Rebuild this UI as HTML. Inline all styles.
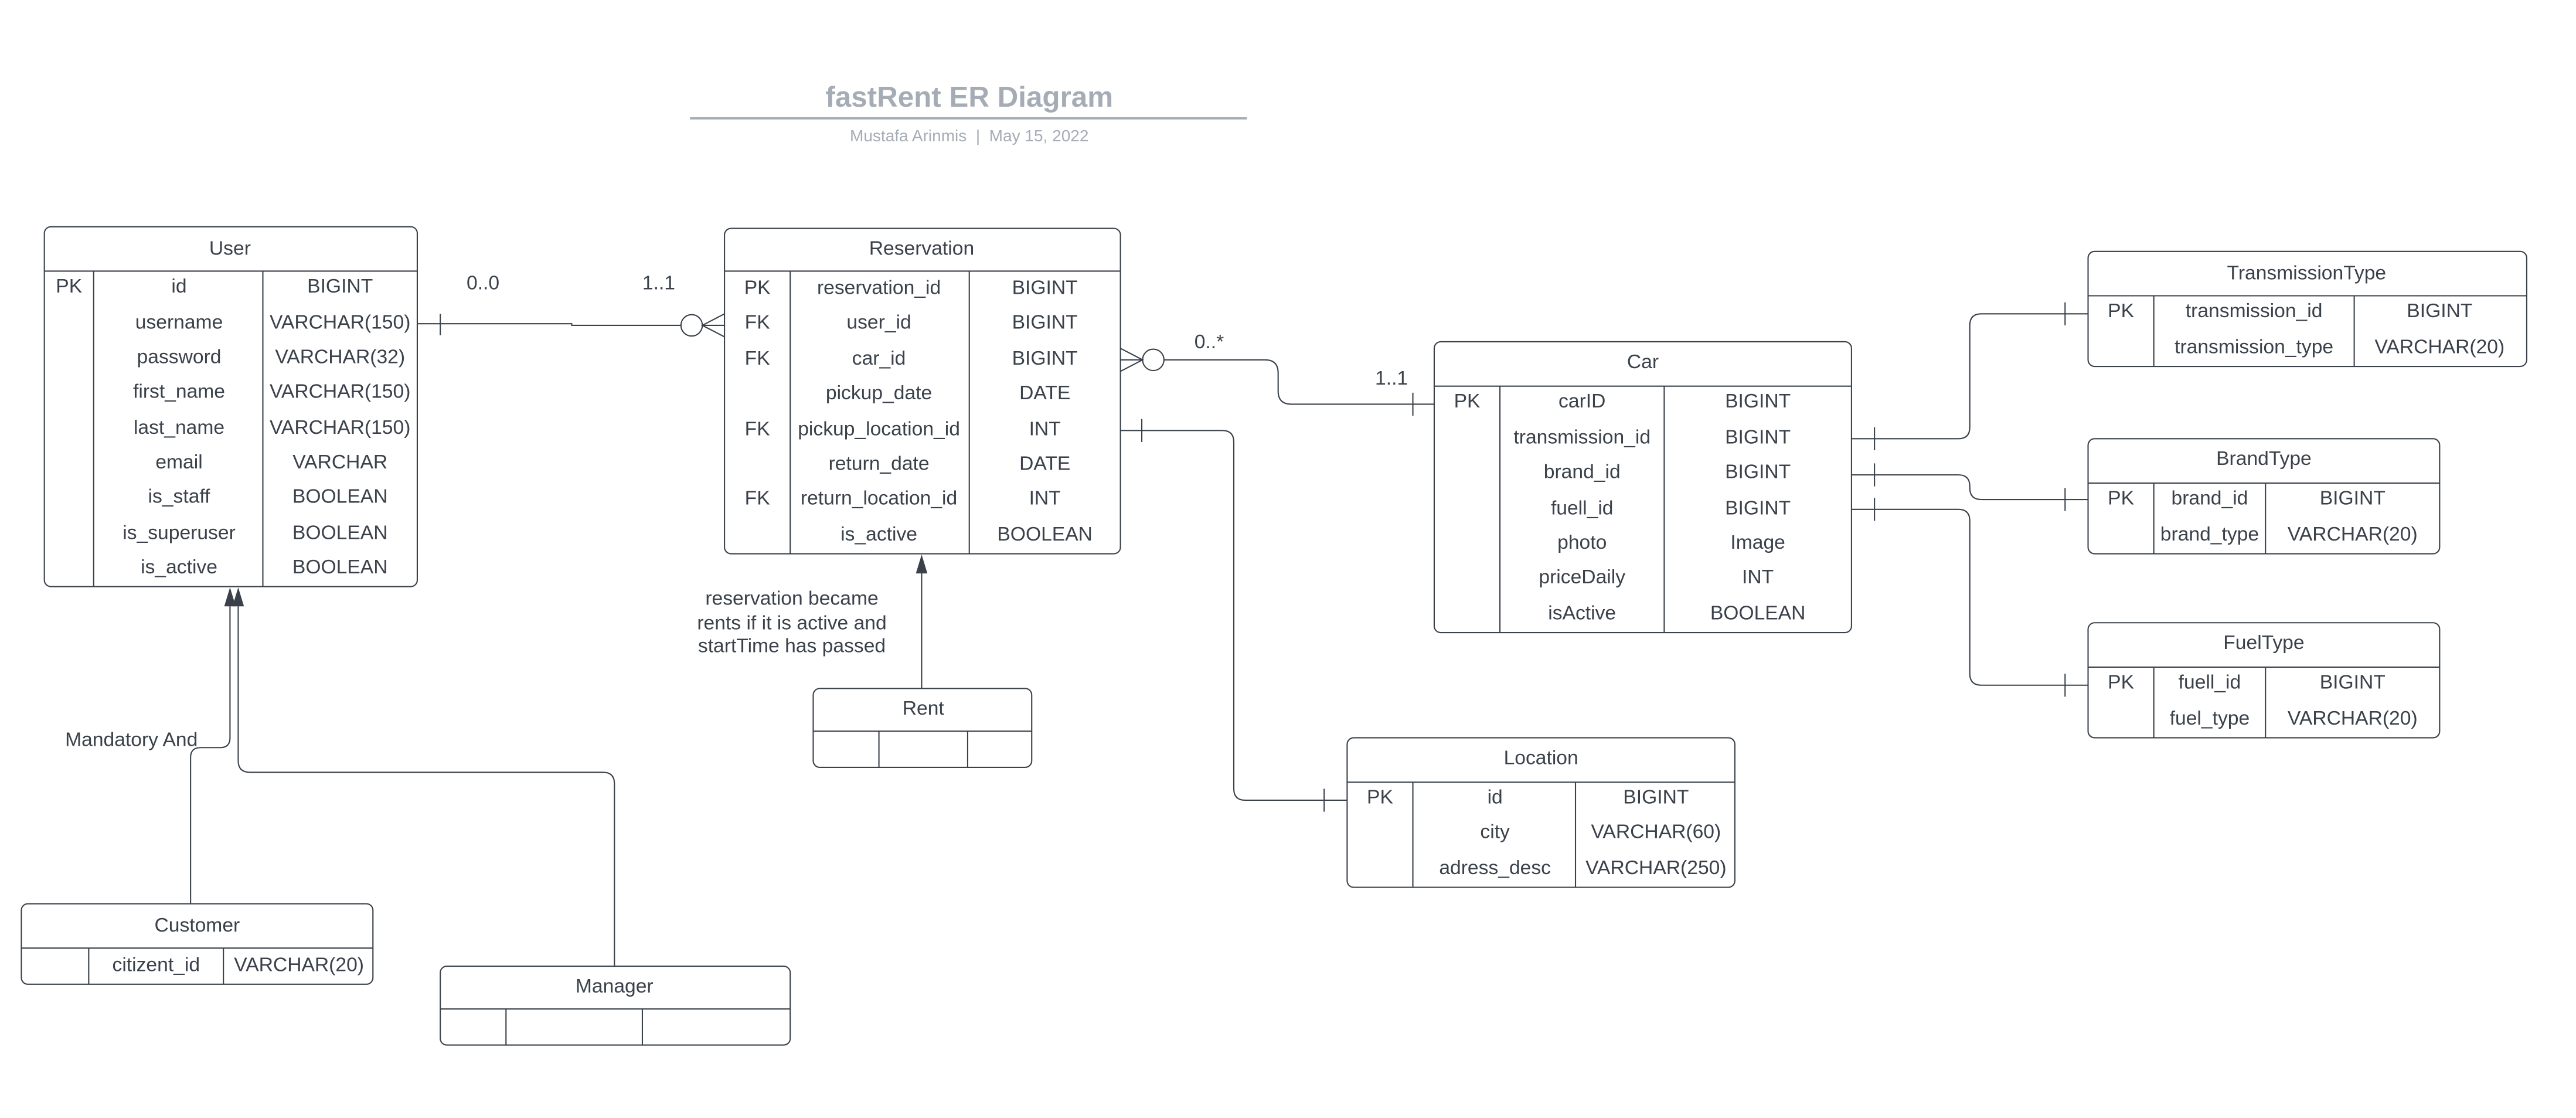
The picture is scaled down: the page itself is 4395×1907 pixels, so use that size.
<!DOCTYPE html>
<html><head><meta charset="utf-8"><style>
html,body{margin:0;padding:0;background:#fff;width:4395px;height:1907px;overflow:hidden}
svg{display:block}
text{font-family:"Liberation Sans",sans-serif;fill:#3a414a;font-size:12px}
.c{text-anchor:middle}
.b{fill:none;stroke:#3a414a;stroke-width:0.75}
.l{fill:none;stroke:#3a414a;stroke-width:0.75}
</style></head><body>
<svg width="4395" height="1907" viewBox="0 0 1568 680.4" preserveAspectRatio="none" xmlns="http://www.w3.org/2000/svg">
<!-- Title -->
<text x="590" y="65" class="c" style="font-weight:bold;font-size:17.6px;fill:#a6acb5">fastRent ER Diagram</text>
<line x1="420" y1="72" x2="759" y2="72" style="stroke:#a6acb5;stroke-width:1.4"/>
<text x="590" y="86" class="c" style="font-size:10px;fill:#a6acb5">Mustafa Arinmis&#160;&#160;|&#160;&#160;May 15, 2022</text>

<!-- User -->
<rect x="27" y="138" width="227" height="219" rx="4" class="b"/>
<line x1="27" y1="165" x2="254" y2="165" class="b"/>
<line x1="57" y1="165" x2="57" y2="357" class="b"/>
<line x1="160" y1="165" x2="160" y2="357" class="b"/>
<text x="140" y="155" class="c">User</text>
<text x="42" y="178" class="c">PK</text>
<g class="c">
<text x="109" y="178" class="c">id</text><text x="207" y="178" class="c">BIGINT</text>
<text x="109" y="200" class="c">username</text><text x="207" y="200" class="c">VARCHAR(150)</text>
<text x="109" y="221" class="c">password</text><text x="207" y="221" class="c">VARCHAR(32)</text>
<text x="109" y="242" class="c">first_name</text><text x="207" y="242" class="c">VARCHAR(150)</text>
<text x="109" y="264" class="c">last_name</text><text x="207" y="264" class="c">VARCHAR(150)</text>
<text x="109" y="285" class="c">email</text><text x="207" y="285" class="c">VARCHAR</text>
<text x="109" y="306" class="c">is_staff</text><text x="207" y="306" class="c">BOOLEAN</text>
<text x="109" y="328" class="c">is_superuser</text><text x="207" y="328" class="c">BOOLEAN</text>
<text x="109" y="349" class="c">is_active</text><text x="207" y="349" class="c">BOOLEAN</text>
</g>

<!-- Reservation -->
<rect x="441" y="139" width="241" height="198" rx="4" class="b"/>
<line x1="441" y1="165" x2="682" y2="165" class="b"/>
<line x1="481" y1="165" x2="481" y2="337" class="b"/>
<line x1="590" y1="165" x2="590" y2="337" class="b"/>
<text x="561" y="155" class="c">Reservation</text>
<text x="461" y="179" class="c">PK</text><text x="535" y="179" class="c">reservation_id</text><text x="636" y="179" class="c">BIGINT</text>
<text x="461" y="200" class="c">FK</text><text x="535" y="200" class="c">user_id</text><text x="636" y="200" class="c">BIGINT</text>
<text x="461" y="222" class="c">FK</text><text x="535" y="222" class="c">car_id</text><text x="636" y="222" class="c">BIGINT</text>
<text x="535" y="243" class="c">pickup_date</text><text x="636" y="243" class="c">DATE</text>
<text x="461" y="265" class="c">FK</text><text x="535" y="265" class="c">pickup_location_id</text><text x="636" y="265" class="c">INT</text>
<text x="535" y="286" class="c">return_date</text><text x="636" y="286" class="c">DATE</text>
<text x="461" y="307" class="c">FK</text><text x="535" y="307" class="c">return_location_id</text><text x="636" y="307" class="c">INT</text>
<text x="535" y="329" class="c">is_active</text><text x="636" y="329" class="c">BOOLEAN</text>

<!-- Car -->
<rect x="873" y="208" width="254" height="177" rx="4" class="b"/>
<line x1="873" y1="235" x2="1127" y2="235" class="b"/>
<line x1="913" y1="235" x2="913" y2="385" class="b"/>
<line x1="1013" y1="235" x2="1013" y2="385" class="b"/>
<text x="1000" y="224" class="c">Car</text>
<text x="893" y="248" class="c">PK</text><text x="963" y="248" class="c">carID</text><text x="1070" y="248" class="c">BIGINT</text>
<text x="963" y="270" class="c">transmission_id</text><text x="1070" y="270" class="c">BIGINT</text>
<text x="963" y="291" class="c">brand_id</text><text x="1070" y="291" class="c">BIGINT</text>
<text x="963" y="313" class="c">fuell_id</text><text x="1070" y="313" class="c">BIGINT</text>
<text x="963" y="334" class="c">photo</text><text x="1070" y="334" class="c">Image</text>
<text x="963" y="355" class="c">priceDaily</text><text x="1070" y="355" class="c">INT</text>
<text x="963" y="377" class="c">isActive</text><text x="1070" y="377" class="c">BOOLEAN</text>

<!-- TransmissionType -->
<rect x="1271" y="153" width="267" height="70" rx="4" class="b"/>
<line x1="1271" y1="180" x2="1538" y2="180" class="b"/>
<line x1="1311" y1="180" x2="1311" y2="223" class="b"/>
<line x1="1433" y1="180" x2="1433" y2="223" class="b"/>
<text x="1404" y="170" class="c">TransmissionType</text>
<text x="1291" y="193" class="c">PK</text><text x="1372" y="193" class="c">transmission_id</text><text x="1485" y="193" class="c">BIGINT</text>
<text x="1372" y="215" class="c">transmission_type</text><text x="1485" y="215" class="c">VARCHAR(20)</text>

<!-- BrandType -->
<rect x="1271" y="267" width="214" height="70" rx="4" class="b"/>
<line x1="1271" y1="294" x2="1485" y2="294" class="b"/>
<line x1="1311" y1="294" x2="1311" y2="337" class="b"/>
<line x1="1379" y1="294" x2="1379" y2="337" class="b"/>
<text x="1378" y="283" class="c">BrandType</text>
<text x="1291" y="307" class="c">PK</text><text x="1345" y="307" class="c">brand_id</text><text x="1432" y="307" class="c">BIGINT</text>
<text x="1345" y="329" class="c">brand_type</text><text x="1432" y="329" class="c">VARCHAR(20)</text>

<!-- FuelType -->
<rect x="1271" y="379" width="214" height="70" rx="4" class="b"/>
<line x1="1271" y1="406" x2="1485" y2="406" class="b"/>
<line x1="1311" y1="406" x2="1311" y2="449" class="b"/>
<line x1="1379" y1="406" x2="1379" y2="449" class="b"/>
<text x="1378" y="395" class="c">FuelType</text>
<text x="1291" y="419" class="c">PK</text><text x="1345" y="419" class="c">fuell_id</text><text x="1432" y="419" class="c">BIGINT</text>
<text x="1345" y="441" class="c">fuel_type</text><text x="1432" y="441" class="c">VARCHAR(20)</text>

<!-- Location -->
<rect x="820" y="449" width="236" height="91" rx="4" class="b"/>
<line x1="820" y1="476" x2="1056" y2="476" class="b"/>
<line x1="860" y1="476" x2="860" y2="540" class="b"/>
<line x1="959" y1="476" x2="959" y2="540" class="b"/>
<text x="938" y="465" class="c">Location</text>
<text x="840" y="489" class="c">PK</text><text x="910" y="489" class="c">id</text><text x="1008" y="489" class="c">BIGINT</text>
<text x="910" y="510" class="c">city</text><text x="1008" y="510" class="c">VARCHAR(60)</text>
<text x="910" y="532" class="c">adress_desc</text><text x="1008" y="532" class="c">VARCHAR(250)</text>

<!-- Rent -->
<rect x="495" y="419" width="133" height="48" rx="4" class="b"/>
<line x1="495" y1="445" x2="628" y2="445" class="b"/>
<line x1="535" y1="445" x2="535" y2="467" class="b"/>
<line x1="589" y1="445" x2="589" y2="467" class="b"/>
<text x="562" y="435" class="c">Rent</text>

<!-- Customer -->
<rect x="13" y="550" width="214" height="49" rx="4" class="b"/>
<line x1="13" y1="577" x2="227" y2="577" class="b"/>
<line x1="54" y1="577" x2="54" y2="599" class="b"/>
<line x1="136" y1="577" x2="136" y2="599" class="b"/>
<text x="120" y="567" class="c">Customer</text>
<text x="95" y="591" class="c">citizent_id</text><text x="182" y="591" class="c">VARCHAR(20)</text>

<!-- Manager -->
<rect x="268" y="588" width="213" height="48" rx="4" class="b"/>
<line x1="268" y1="614" x2="481" y2="614" class="b"/>
<line x1="308" y1="614" x2="308" y2="636" class="b"/>
<line x1="391" y1="614" x2="391" y2="636" class="b"/>
<text x="374" y="604" class="c">Manager</text>

<!-- User - Reservation -->
<path d="M254 197 H348 V198 H414.5" class="l"/>
<line x1="268" y1="191" x2="268" y2="204" class="l"/>
<circle cx="421" cy="198" r="6.5" class="l"/>
<path d="M441 191 L427.5 198 L441 205 M427.5 198 H441" class="l"/>
<text x="294" y="176" class="c">0..0</text>
<text x="401" y="176" class="c">1..1</text>

<!-- Reservation - Car -->
<path d="M682 212 L695.5 219 L682 226 M682 219 H695.5" class="l"/>
<circle cx="702" cy="219" r="6.5" class="l"/>
<path d="M708.5 219 H770 Q778 219 778 227 V238 Q778 246 786 246 H873" class="l"/>
<line x1="860" y1="239" x2="860" y2="253" class="l"/>
<text x="736" y="212" class="c">0..*</text>
<text x="847" y="234" class="c">1..1</text>

<!-- Reservation - Location -->
<path d="M682 262 H744 Q751 262 751 269 V480 Q751 487 758 487 H820" class="l"/>
<line x1="695" y1="255" x2="695" y2="269" class="l"/>
<line x1="806" y1="480" x2="806" y2="494" class="l"/>

<!-- Car - TransmissionType -->
<path d="M1127 267 H1192 Q1199 267 1199 260 V198 Q1199 191 1206 191 H1271" class="l"/>
<line x1="1141" y1="260" x2="1141" y2="274" class="l"/>
<line x1="1257" y1="184" x2="1257" y2="198" class="l"/>
<!-- Car - BrandType -->
<path d="M1127 289 H1192 Q1199 289 1199 296 V297 Q1199 304 1206 304 H1271" class="l"/>
<line x1="1141" y1="282" x2="1141" y2="296" class="l"/>
<line x1="1257" y1="297" x2="1257" y2="311" class="l"/>
<!-- Car - FuelType -->
<path d="M1127 310 H1192 Q1199 310 1199 317 V410 Q1199 417 1206 417 H1271" class="l"/>
<line x1="1141" y1="303" x2="1141" y2="317" class="l"/>
<line x1="1257" y1="410" x2="1257" y2="424" class="l"/>

<!-- Rent -> Reservation -->
<line x1="561" y1="419" x2="561" y2="347" class="l"/>
<polygon points="561,337.5 557.5,349 564.5,349" fill="#3a414a"/>
<text x="482" y="368" class="c">reservation became</text>
<text x="482" y="383" class="c">rents if it is active and</text>
<text x="482" y="397" class="c">startTime has passed</text>

<!-- Inheritance -->
<path d="M116 550 V461 Q116 455 122 455 H134 Q140 455 140 449 V367" class="l"/>
<path d="M374 588 V477 Q374 470 367 470 H152 Q145 470 145 463 V367" class="l"/>
<polygon points="140,357.5 136.5,369 143.5,369" fill="#3a414a"/>
<polygon points="145,357.5 141.5,369 148.5,369" fill="#3a414a"/>
<text x="80" y="454" class="c">Mandatory And</text>
</svg>
</body></html>
